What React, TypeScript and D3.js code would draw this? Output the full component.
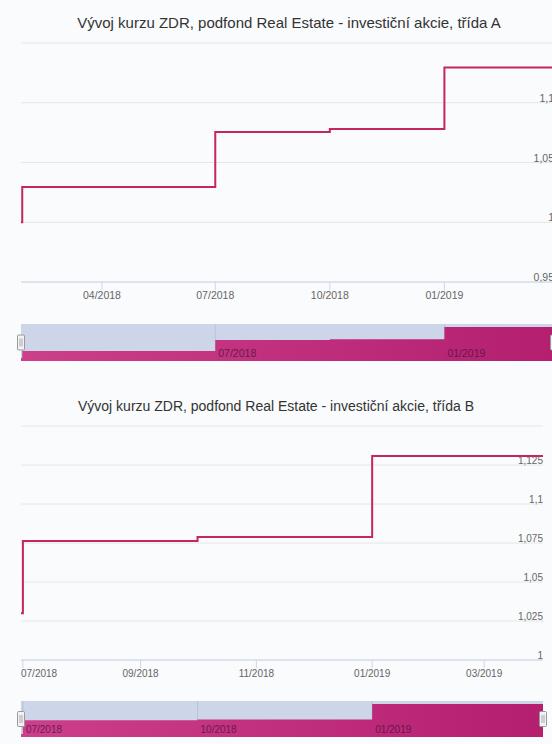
import * as d3 from 'd3'
import { useEffect } from 'react'

// class A
const datesA = ['2018-01-26', '2018-01-27', '2018-07-01', '2018-10-01', '2019-01-01', '2019-03-30']
const valuesA = [1.0, 1.0295, 1.0756, 1.078, 1.1295, 1.1295]
const xTicksA = ['2018-04-01', '2018-07-01', '2018-10-01', '2019-01-01']
const navTicksA = ['2018-07-01', '2019-01-01']
const yTicksA = [0.95, 1, 1.05, 1.1, 1.15]

// class B
const datesB = ['2018-06-30', '2018-07-01', '2018-10-01', '2019-01-01', '2019-04-01']
const valuesB = [1.03, 1.0763, 1.0788, 1.1308, 1.1308]
const xTicksB = ['2018-07-01', '2018-09-01', '2018-11-01', '2019-01-01', '2019-03-01']
const navTicksB = ['2018-07-01', '2018-10-01', '2019-01-01']
const yTicksB = [1, 1.025, 1.05, 1.075, 1.1, 1.125, 1.15]

const titleA = 'Vývoj kurzu ZDR, podfond Real Estate - investiční akcie, třída A'
const titleB = 'Vývoj kurzu ZDR, podfond Real Estate - investiční akcie, třída B'

const parse = d3.utcParse('%Y-%m-%d')
const fmtDate = d3.utcFormat('%m/%Y')
const czech = d3.formatLocale({ decimal: ',', thousands: ' ', grouping: [3], currency: ['', ' Kč'] })
const fmtNum = czech.format('.3~f')

const font = 'Arial, "Liberation Sans", Helvetica, sans-serif'

interface ChartProps {
  id: string
  title: string
  titleX: number
  titleY: number
  titleSize: number
  labelSize: number
  dates: string[]
  values: number[]
  xTicks: string[]
  navTicks: string[]
  yTicks: number[]
  left: number
  right: number
  top: number
  bottom: number
  navTop: number
  navBottom: number
}

const Chart = (p: ChartProps) => {
  const data = p.dates.map((d, i) => ({ date: parse(d) as Date, value: p.values[i] }))
  const x = d3
    .scaleUtc()
    .domain([data[0].date, data[data.length - 1].date])
    .range([p.left, p.right])
  const y = d3
    .scaleLinear()
    .domain([p.yTicks[0], p.yTicks[p.yTicks.length - 1]])
    .range([p.bottom, p.top])
  const [vMin, vMax] = d3.extent(p.values) as [number, number]
  const yNav = d3.scaleLinear().domain([vMin, vMax]).range([p.navBottom - 3, p.navTop + 3])

  const line = d3
    .line<{ date: Date; value: number }>()
    .x((d) => x(d.date))
    .y((d) => y(d.value))
    .curve(d3.curveStepAfter)
  const area = d3
    .area<{ date: Date; value: number }>()
    .x((d) => x(d.date))
    .y0(p.navBottom)
    .y1((d) => yNav(d.value))
    .curve(d3.curveStepAfter)

  const navMid = (p.navTop + p.navBottom) / 2
  const handle = (hx: number) => (
    <g key={hx}>
      <rect x={hx - 3.5} y={navMid - 7.5} width={7} height={15} rx={1} fill="#f2f2f2" stroke="#999" />
      <line x1={hx - 1} x2={hx - 1} y1={navMid - 4} y2={navMid + 4} stroke="#aaa" />
      <line x1={hx + 1} x2={hx + 1} y1={navMid - 4} y2={navMid + 4} stroke="#aaa" />
    </g>
  )

  return (
    <g fontFamily={font}>
      <text x={p.titleX} y={p.titleY} textAnchor="middle" fontSize={p.titleSize} fill="#333">
        {p.title}
      </text>

      {p.yTicks.map((t) => (
        <line key={t} x1={p.left} x2={p.right} y1={y(t)} y2={y(t)} stroke="#e6e6e6" />
      ))}
      {p.yTicks.slice(0, -1).map((t) => (
        <text key={t} x={p.right} y={y(t) - 1} textAnchor="end" fontSize={p.labelSize} fill="#666">
          {fmtNum(t)}
        </text>
      ))}

      <line x1={p.left} x2={p.right} y1={p.bottom} y2={p.bottom} stroke="#ccd6eb" />
      {p.xTicks.map((t) => {
        const tx = x(parse(t) as Date)
        const shift = tx - 18 < p.left
        return (
          <g key={t}>
            <line x1={tx} x2={tx} y1={p.bottom} y2={p.bottom + 8} stroke="#ccd6eb" />
            <text
              x={shift ? p.left : tx}
              y={p.bottom + 17}
              textAnchor={shift ? 'start' : 'middle'}
              fontSize={p.labelSize}
              fill="#666"
            >
              {fmtDate(parse(t) as Date)}
            </text>
          </g>
        )
      })}

      <path d={line(data) ?? ''} fill="none" stroke="#c52660" strokeWidth={2} strokeLinejoin="miter" />

      {/* navigator */}
      <defs>
        <linearGradient id={`nav-${p.id}`} x1="0" x2="1" y1="0" y2="0">
          <stop offset="0%" stopColor="#cc3f8a" />
          <stop offset="100%" stopColor="#b41f70" />
        </linearGradient>
      </defs>
      <rect
        x={p.left}
        y={p.navTop}
        width={p.right - p.left}
        height={p.navBottom - p.navTop}
        fill="#cdd6e9"
      />
      {p.navTicks.map((t) => {
        const tx = x(parse(t) as Date)
        return <line key={t} x1={tx} x2={tx} y1={p.navTop} y2={p.navBottom} stroke="#b7c2da" />
      })}
      <path d={area(data) ?? ''} fill={`url(#nav-${p.id})`} />
      {p.navTicks.map((t) => {
        const tx = x(parse(t) as Date)
        return (
          <text key={t} x={tx + 3} y={p.navBottom - 4} fontSize={p.labelSize} fill="#4a1535" opacity={0.75}>
            {fmtDate(parse(t) as Date)}
          </text>
        )
      })}
      {handle(p.left)}
      {handle(p.right)}
    </g>
  )
}

const App = () => {
  useEffect(() => {
    document.body.style.margin = '0'
  }, [])

  return (
    <svg width={552} height={744} viewBox="0 0 552 744" style={{ display: 'block', background: '#f9fbfc' }}>
      <Chart
        id="a"
        title={titleA}
        titleX={289}
        titleY={28}
        titleSize={15}
        labelSize={10.5}
        dates={datesA}
        values={valuesA}
        xTicks={xTicksA}
        navTicks={navTicksA}
        yTicks={yTicksA}
        left={21}
        right={554}
        top={43}
        bottom={282}
        navTop={324}
        navBottom={361}
      />
      <Chart
        id="b"
        title={titleB}
        titleX={276}
        titleY={411}
        titleSize={14}
        labelSize={10}
        dates={datesB}
        values={valuesB}
        xTicks={xTicksB}
        navTicks={navTicksB}
        yTicks={yTicksB}
        left={21}
        right={543}
        top={426}
        bottom={660}
        navTop={701}
        navBottom={737}
      />
    </svg>
  )
}

export default App
